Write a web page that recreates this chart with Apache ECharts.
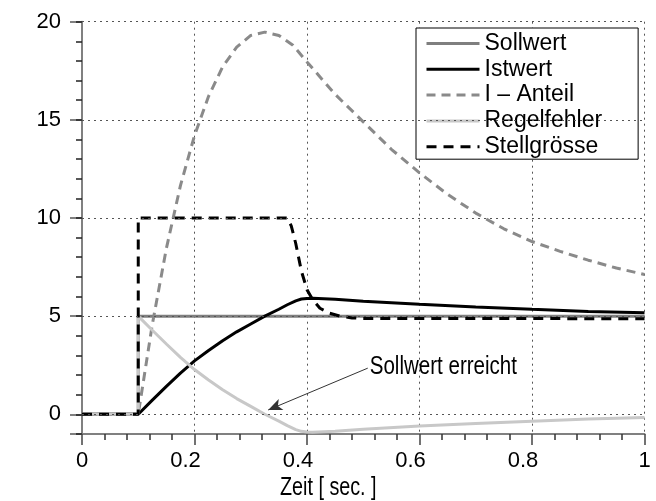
<!DOCTYPE html>
<html><head><meta charset="utf-8">
<script src="https://cdn.jsdelivr.net/npm/echarts@6/dist/echarts.min.js"></script>
<style>html,body{margin:0;padding:0;background:#fff}#c{width:656px;height:501px}</style>
</head><body><div id="c"></div>
<script>
const seriesNames = ['Sollwert', 'Istwert', 'I – Anteil', 'Regelfehler', 'Stellgrösse'];

const tSoll = [0, 0.1, 0.1, 1.0];
const vSoll = [0, 0, 5, 5];

const tIst = [0, 0.1, 0.125, 0.15, 0.175, 0.2, 0.225, 0.25, 0.275, 0.3, 0.325, 0.35, 0.365, 0.38, 0.39, 0.4, 0.41, 0.45, 0.5, 0.6, 0.7, 0.8, 0.9, 1.0];
const vIst = [0, 0, 0.72, 1.42, 2.1, 2.72, 3.25, 3.75, 4.2, 4.6, 5.0, 5.35, 5.58, 5.78, 5.87, 5.9, 5.91, 5.86, 5.76, 5.6, 5.47, 5.35, 5.24, 5.17];

const tI = [0, 0.1, 0.125, 0.15, 0.175, 0.2, 0.225, 0.25, 0.275, 0.3, 0.325, 0.35, 0.375, 0.4, 0.45, 0.5, 0.55, 0.6, 0.65, 0.7, 0.75, 0.8, 0.85, 0.9, 0.95, 1.0];
const vI = [0, 0, 4.58, 8.45, 11.65, 14.2, 16.2, 17.7, 18.7, 19.3, 19.47, 19.3, 18.8, 17.95, 16.3, 14.9, 13.5, 12.3, 11.2, 10.25, 9.45, 8.8, 8.3, 7.85, 7.45, 7.12];

const tErr = [0, 0.1, 0.1, 0.125, 0.15, 0.175, 0.2, 0.225, 0.25, 0.275, 0.3, 0.325, 0.35, 0.365, 0.38, 0.39, 0.4, 0.41, 0.45, 0.5, 0.6, 0.7, 0.8, 0.9, 1.0];
const vErr = [0, 0, 5, 4.28, 3.58, 2.9, 2.28, 1.75, 1.25, 0.8, 0.4, 0, -0.35, -0.58, -0.78, -0.87, -0.9, -0.91, -0.86, -0.76, -0.6, -0.47, -0.35, -0.24, -0.17];

const tStell = [0, 0.1, 0.1, 0.365, 0.372, 0.38, 0.39, 0.4, 0.41, 0.423, 0.44, 0.46, 0.48, 0.5, 1.0];
const vStell = [0, 0, 10, 10, 9.6, 8.7, 7.3, 6.35, 5.85, 5.4, 5.15, 4.99, 4.91, 4.88, 4.87];

const xTicks = [0, 0.2, 0.4, 0.6, 0.8, 1];
const yTicks = [0, 5, 10, 15, 20];
const yMajorTicks = [-1, 0, 5, 10, 15, 20];

const annotText = 'Sollwert erreicht';
const annotFrom = [0.508, 2.35];
const annotTo = [0.331, 0.22];
const xAxisTitle = 'Zeit [ sec. ]';

const FONT = "'Liberation Sans', Arial, sans-serif";
const NARROW = 0.79;
const pairs = (t, v) => t.map((x, i) => [x, v[i]]);

const chart = echarts.init(document.getElementById('c'), null, {renderer: 'canvas'});
const base = {type: 'line', showSymbol: false, symbol: 'none', animation: false, xAxisIndex: 0, yAxisIndex: 0};

chart.setOption({
  animation: false,
  backgroundColor: '#fff',
  grid: {left: 82, right: 11.5, top: 21.7, bottom: 67.1, containLabel: false},
  legend: {
    orient: 'vertical', left: 416, top: 28,
    itemWidth: 53, itemHeight: 12, itemGap: 2.8,
    padding: [4, 36, 1, 9],
    borderColor: '#000', borderWidth: 1, borderRadius: 0, backgroundColor: '#fff',
    itemStyle: {opacity: 0},
    lineStyle: {width: 3},
    textStyle: {fontSize: 23, fontFamily: FONT, color: '#000'},
    data: seriesNames
  },
  xAxis: {
    type: 'value', min: 0, max: 1, interval: 0.2,
    axisLine: {show: true, onZero: false, lineStyle: {color: '#808080', width: 2}},
    axisTick: {show: true, length: 11, lineStyle: {color: '#444', width: 1.5}},
    minorTick: {show: true, splitNumber: 5, length: 6, lineStyle: {color: '#333', width: 1.5}},
    axisLabel: {margin: 16, fontSize: 22, fontFamily: FONT, color: '#000',
      customValues: xTicks,
      formatter: v => (Number.isInteger(v) ? '{i|' + v + '}' : '{d|' + v + '}'),
      rich: {
        i: {fontSize: 22, fontFamily: FONT, color: '#000'},
        d: {fontSize: 22, fontFamily: FONT, color: '#000', padding: [0, 18, 0, 0]}
      }},
    splitLine: {show: true, lineStyle: {type: [2, 4], color: '#555', width: 1}}
  },
  yAxis: [
    {
      type: 'value', min: -1, max: 20, interval: 1,
      axisLine: {show: true, onZero: false, lineStyle: {color: '#808080', width: 2}},
      axisTick: {show: true, customValues: yMajorTicks, length: 12, lineStyle: {color: '#808080', width: 2}},
      axisLabel: {customValues: yTicks, margin: 21, fontSize: 22, fontFamily: FONT, color: '#000'},
      splitLine: {show: false}
    },
    {
      type: 'value', min: -1, max: 20, interval: 1, position: 'left', offset: 0,
      axisLine: {show: false},
      axisTick: {show: true, length: 6, lineStyle: {color: '#222', width: 1.5}},
      axisLabel: {show: false},
      splitLine: {show: false}
    }
  ],
  series: [
    Object.assign({}, base, {
      name: 'grid', data: [], legendHoverLink: false,
      markLine: {silent: true, symbol: ['none', 'none'], label: {show: false}, animation: false,
        lineStyle: {type: [2, 4], color: '#555', width: 1},
        data: yTicks.map(v => ({yAxis: v}))}
    }),
    Object.assign({}, base, {name: seriesNames[0], data: pairs(tSoll, vSoll),
      lineStyle: {color: '#7f7f7f', width: 3}, itemStyle: {color: '#7f7f7f'}}),
    Object.assign({}, base, {name: seriesNames[1], data: pairs(tIst, vIst),
      lineStyle: {color: '#000', width: 3}, itemStyle: {color: '#000'}}),
    Object.assign({}, base, {name: seriesNames[2], data: pairs(tI, vI),
      lineStyle: {color: '#8a8a8a', width: 3, type: [9, 6]}, itemStyle: {color: '#8a8a8a'}}),
    Object.assign({}, base, {name: seriesNames[3], data: pairs(tErr, vErr),
      lineStyle: {color: '#c8c8c8', width: 3}, itemStyle: {color: '#c8c8c8'},
      markLine: {silent: true, animation: false, symbol: ['none', 'arrow'], symbolSize: [9, 14],
        label: {show: false}, lineStyle: {color: '#333', width: 1, type: 'solid'},
        data: [[{coord: annotFrom}, {coord: annotTo}]]}
    }),
    Object.assign({}, base, {name: seriesNames[4], data: pairs(tStell, vStell),
      lineStyle: {color: '#000', width: 3, type: [10, 7]}, itemStyle: {color: '#000'}})
  ]
});

// condensed-looking texts (annotation and axis title), placed from data coordinates
const p = chart.convertToPixel({gridIndex: 0}, annotFrom);
chart.setOption({
  graphic: [
    {type: 'text', x: p[0] + 2, y: p[1] - 1, scaleX: NARROW, silent: true,
      style: {text: annotText, fontSize: 26, fontFamily: FONT, fill: '#000',
        align: 'left', verticalAlign: 'middle'}},
    {type: 'text', x: 280, y: 476, scaleX: NARROW, silent: true,
      style: {text: xAxisTitle, fontSize: 25, fontFamily: FONT, fill: '#000',
        align: 'left', verticalAlign: 'top'}}
  ]
});
</script>
</body></html>
